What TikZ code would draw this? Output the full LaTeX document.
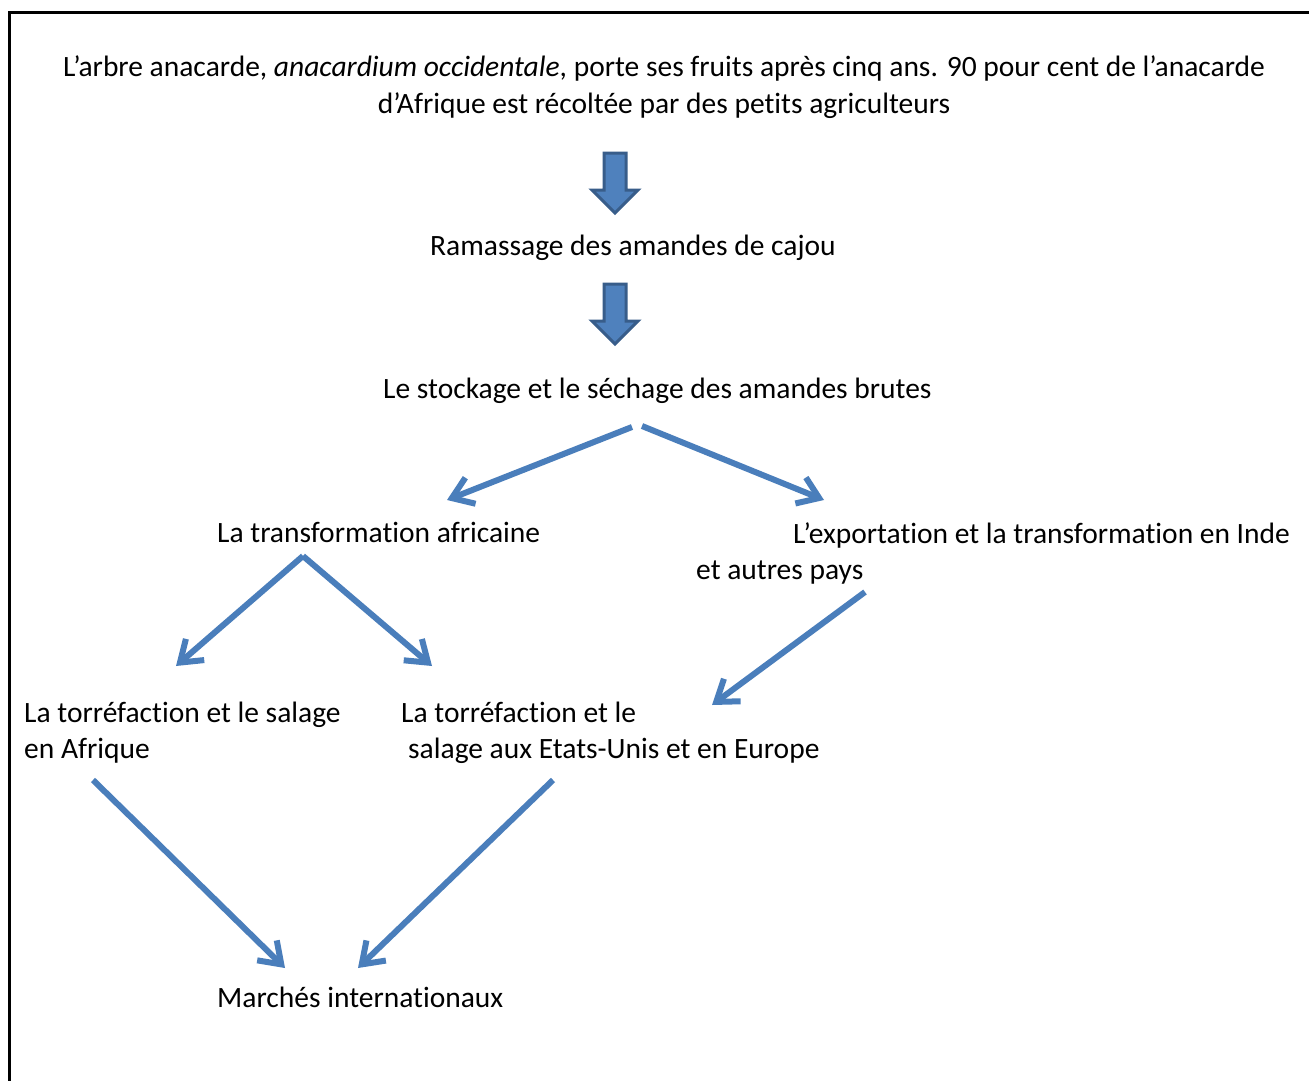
\documentclass[tikz,border=0pt]{standalone}
\usepackage{fontspec}
\setmainfont{Carlito}[Ligatures=NoCommon]
\usetikzlibrary{arrows.meta}
\definecolor{ablue}{HTML}{4A7EBB}
\definecolor{bfill}{HTML}{4F81BD}
\definecolor{bdraw}{HTML}{385D8A}
\tikzset{
  txt/.style={inner sep=0pt, font=\fontsize{29.5}{36}\selectfont, text=black},
  conn/.style={draw=ablue, line width=6pt, -{Straight Barb[length=20pt,width=28pt]}},
  blockarrow/.pic={
    \filldraw[fill=bfill, draw=bdraw, line width=3pt, line join=miter]
      (-11,0) -- (11,0) -- (11,37) -- (23,37) -- (0,60) -- (-23,37) -- (-11,37) -- cycle;
  }
}
\begin{document}
\begin{tikzpicture}[x=1pt,y=-1pt]
\useasboundingbox (0,0) rectangle (1309,1081);
\fill[white] (0,0) rectangle (1309,1081);
\draw[line width=2.8pt] (9.5,1081) -- (9.5,12.5) -- (1309,12.5);

% multi-line nodes: base anchor sits on the last line's baseline
\node[txt, anchor=base, align=center] (title) at (664,113)
  {L’arbre anacarde, \textit{anacardium occidentale}, porte ses fruits après cinq ans. 90 pour cent de l’anacarde\\d’Afrique est récoltée par des petits agriculteurs};
\node[txt, anchor=base west] (ramassage) at (430,255) {Ramassage des amandes de cajou};
\node[txt, anchor=base west] (stockage) at (383,398) {Le stockage et le séchage des amandes brutes};
\node[txt, anchor=base west] (afr) at (217,542) {La transformation africaine};
\node[txt, anchor=base west, align=left] (export) at (696,579)
  {\hspace*{97pt}L’exportation et la transformation en Inde\\et autres pays};
\node[txt, anchor=base west, align=left] (torrafr) at (24,758)
  {La torréfaction et le salage\\en Afrique};
\node[txt, anchor=base west, align=left] (torreu) at (401,758)
  {La torréfaction et le\\\hspace*{7pt}salage aux Etats-Unis et en Europe};
\node[txt, anchor=base west] (marches) at (217,1007) {Marchés internationaux};

\pic at (615,153) {blockarrow};
\pic at (615,284) {blockarrow};

\coordinate (s1) at (632,427); \coordinate (e1) at (447,500);
\coordinate (s2) at (642,426); \coordinate (e2) at (824,500);
\coordinate (s3) at (303,556); \coordinate (e3) at (176,666);
\coordinate (s4) at (303,556); \coordinate (e4) at (432,666);
\coordinate (s5) at (865,592); \coordinate (e5) at (712,705);
\coordinate (s6) at (93,780);  \coordinate (e6) at (285,968);
\coordinate (s7) at (553,780); \coordinate (e7) at (358,968);

\draw[conn] (s1) -- (e1);
\draw[conn] (s2) -- (e2);
\draw[conn] (s3) -- (e3);
\draw[conn] (s4) -- (e4);
\draw[conn] (s5) -- (e5);
\draw[conn] (s6) -- (e6);
\draw[conn] (s7) -- (e7);
\end{tikzpicture}
\end{document}
